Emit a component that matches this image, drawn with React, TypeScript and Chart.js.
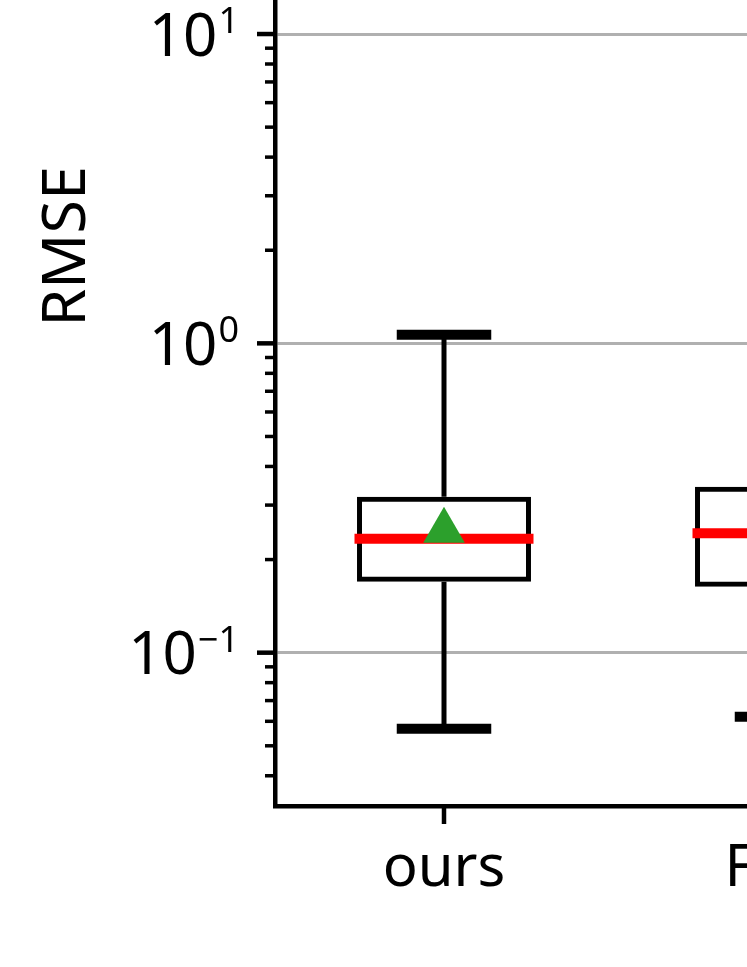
import React, { useEffect, useRef } from 'react';
import { Chart, registerables } from 'chart.js';

Chart.register(...registerables);

// ---- data ----
const CATEGORIES = ['ours', 'FEM'];
const WHISKER_LOW = [0.0568, 0.0621];
const Q1 = [0.1697, 0.1634];
const MEDIAN = [0.2336, 0.2434];
const Q3 = [0.3195, 0.344];
const WHISKER_HIGH = [1.067, 90];
const MEAN = [0.248, 1.3];

// ---- axis ----
const Y_MIN = 0.03194;
const Y_MAX = 132.4;
const MAJOR_TICKS = [0.1, 1, 10, 100];
const MAJOR_BASES = ['10', '10', '10', '10'];
const MAJOR_EXPONENTS = ['−1', '0', '1', '2'];
const MINOR_TICKS = [
  0.04, 0.05, 0.06, 0.07, 0.08, 0.09,
  0.2, 0.3, 0.4, 0.5, 0.6, 0.7, 0.8, 0.9,
  2, 3, 4, 5, 6, 7, 8, 9,
  20, 30, 40, 50, 60, 70, 80, 90,
];

// ---- style constants ----
const BOX_WIDTH = 0.5; // category units
const CAP_WIDTH = 0.25;
const FONT = "'Noto Sans', sans-serif";
const PAD_TOP = 100;
const X_AXIS_H = 140;
const CANVAS_W = 975;
const CANVAS_H = 1359;
const CANVAS_TOP = -413;

function majorIndex(v: number): number {
  for (let i = 0; i < MAJOR_TICKS.length; i++) {
    if (Math.abs(Math.log10(v) - Math.log10(MAJOR_TICKS[i])) < 1e-6) return i;
  }
  return -1;
}

const boxPlugin = {
  id: 'boxExtras',
  afterDatasetDraw(chart: any, args: any) {
    if (args.index !== 0) return;
    const { ctx, scales } = chart;
    const x = scales.x;
    const y = scales.y;
    const unit = x.getPixelForValue(1) - x.getPixelForValue(0);
    const line = (x1: number, y1: number, x2: number, y2: number) => {
      ctx.beginPath();
      ctx.moveTo(x1, y1);
      ctx.lineTo(x2, y2);
      ctx.stroke();
    };
    ctx.save();
    const ca = chart.chartArea;
    ctx.beginPath();
    ctx.rect(ca.left, ca.top, ca.right - ca.left, ca.bottom - ca.top);
    ctx.clip();
    CATEGORIES.forEach((_, i) => {
      const cx = x.getPixelForValue(i);
      const yq1 = y.getPixelForValue(Q1[i]);
      const yq3 = y.getPixelForValue(Q3[i]);
      const ylo = y.getPixelForValue(WHISKER_LOW[i]);
      const yhi = y.getPixelForValue(WHISKER_HIGH[i]);
      const ymed = y.getPixelForValue(MEDIAN[i]);
      ctx.strokeStyle = '#000';
      ctx.lineWidth = 5;
      ctx.lineCap = 'butt';
      line(cx, yq3, cx, yhi);
      line(cx, yq1, cx, ylo);
      ctx.lineWidth = 10;
      ctx.lineCap = 'square';
      const capHalf = (unit * CAP_WIDTH) / 2;
      line(cx - capHalf, yhi, cx + capHalf, yhi);
      line(cx - capHalf, ylo, cx + capHalf, ylo);
      ctx.strokeStyle = '#ff0000';
      const boxHalf = (unit * BOX_WIDTH) / 2;
      line(cx - boxHalf, ymed, cx + boxHalf, ymed);
    });
    ctx.restore();
  },
  afterDraw(chart: any) {
    const { ctx, scales, chartArea } = chart;
    const x = scales.x;
    const y = scales.y;
    const line = (x1: number, y1: number, x2: number, y2: number) => {
      ctx.beginPath();
      ctx.moveTo(x1, y1);
      ctx.lineTo(x2, y2);
      ctx.stroke();
    };
    ctx.save();
    ctx.strokeStyle = '#000';
    ctx.fillStyle = '#000';
    ctx.lineCap = 'butt';
    const inside = (py: number) => py >= chartArea.top - 1 && py <= chartArea.bottom + 1;
    MAJOR_TICKS.forEach((v, i) => {
      const py = y.getPixelForValue(v);
      if (!inside(py)) return;
      ctx.lineWidth = 4.5;
      line(chartArea.left - 18, py, chartArea.left, py);
      // tick label: base with superscript exponent
      const xRight = chartArea.left - 36;
      ctx.textBaseline = 'alphabetic';
      ctx.textAlign = 'left';
      ctx.font = `36px ${FONT}`;
      const expW = ctx.measureText(MAJOR_EXPONENTS[i]).width;
      ctx.font = `60px ${FONT}`;
      const baseW = ctx.measureText(MAJOR_BASES[i]).width;
      const expX = xRight - expW;
      const baseX = expX - baseW - 1;
      const baseline = py + 21.5;
      ctx.fillText(MAJOR_BASES[i], baseX, baseline);
      ctx.font = `36px ${FONT}`;
      ctx.fillText(MAJOR_EXPONENTS[i], expX, baseline - 22.5);
    });
    MINOR_TICKS.forEach((v) => {
      const py = y.getPixelForValue(v);
      if (!inside(py)) return;
      ctx.lineWidth = 3.5;
      line(chartArea.left - 10, py, chartArea.left, py);
    });
    CATEGORIES.forEach((_, i) => {
      const px = x.getPixelForValue(i);
      ctx.lineWidth = 4.5;
      line(px, chartArea.bottom, px, chartArea.bottom + 18);
    });
    ctx.restore();
  },
};

export default function App() {
  const ref = useRef<HTMLCanvasElement | null>(null);

  useEffect(() => {
    if (!ref.current) return;
    const chart = new Chart(ref.current, {
      type: 'bar',
      data: {
        labels: CATEGORIES,
        datasets: [
          {
            type: 'bar',
            label: 'box',
            data: CATEGORIES.map((_, i) => [Q1[i], Q3[i]]) as any,
            backgroundColor: 'rgba(0,0,0,0)',
            borderColor: '#000',
            borderWidth: 5,
            borderSkipped: false,
            barPercentage: 0.5147,
            categoryPercentage: 1,
            order: 2,
          } as any,
          {
            type: 'line',
            label: 'mean',
            data: MEAN,
            showLine: false,
            pointStyle: 'triangle',
            pointRadius: 24,
            pointHoverRadius: 24,
            pointBackgroundColor: '#2ca02c',
            pointBorderWidth: 0,
            borderColor: '#2ca02c',
            order: 1,
          } as any,
        ],
      },
      options: {
        responsive: false,
        animation: false,
        devicePixelRatio: 1,
        layout: { padding: { top: PAD_TOP, left: 0, right: 20, bottom: 0 } },
        plugins: { legend: { display: false }, tooltip: { enabled: false } },
        scales: {
          x: {
            type: 'category',
            offset: true,
            grid: { display: true, color: 'rgba(0,0,0,0)', drawTicks: false },
            border: { display: true, color: '#000', width: 4.5 },
            ticks: {
              color: '#000',
              font: { family: FONT, size: 58 },
              padding: 29,
              maxRotation: 0,
              autoSkip: false,
            },
            afterFit: (s: any) => {
              s.height = X_AXIS_H;
            },
          },
          y: {
            type: 'logarithmic',
            min: Y_MIN,
            max: Y_MAX,
            bounds: 'data',
            grid: {
              drawTicks: false,
              lineWidth: 3,
              color: (c: any) =>
                c.tick && majorIndex(c.tick.value) >= 0 ? '#b0b0b0' : 'rgba(0,0,0,0)',
            },
            border: { display: true, color: '#000', width: 4.5 },
            ticks: {
              display: false,
              autoSkip: false,
            },
            title: {
              display: true,
              text: 'RMSE',
              color: '#000',
              font: { family: FONT, size: 61 },
              padding: { top: 31, bottom: 0 },
            },
            afterBuildTicks: (s: any) => {
              const vals = [...MAJOR_TICKS, ...MINOR_TICKS].sort((a, b) => a - b);
              s.ticks = vals
                .filter((v) => v >= Y_MIN && v <= Y_MAX)
                .map((v) => ({ value: v, major: majorIndex(v) >= 0 }));
            },
            afterFit: (s: any) => {
              s.width = 275;
            },
          },
        },
      },
      plugins: [boxPlugin],
    } as any);
    return () => chart.destroy();
  }, []);

  return (
    <div
      style={{
        position: 'fixed',
        left: 0,
        top: 0,
        width: 747,
        height: 967,
        overflow: 'hidden',
        background: '#fff',
      }}
    >
      <canvas
        ref={ref}
        width={CANVAS_W}
        height={CANVAS_H}
        style={{
          position: 'absolute',
          left: 0,
          top: CANVAS_TOP,
          width: CANVAS_W,
          height: CANVAS_H,
          display: 'block',
        }}
      />
    </div>
  );
}
